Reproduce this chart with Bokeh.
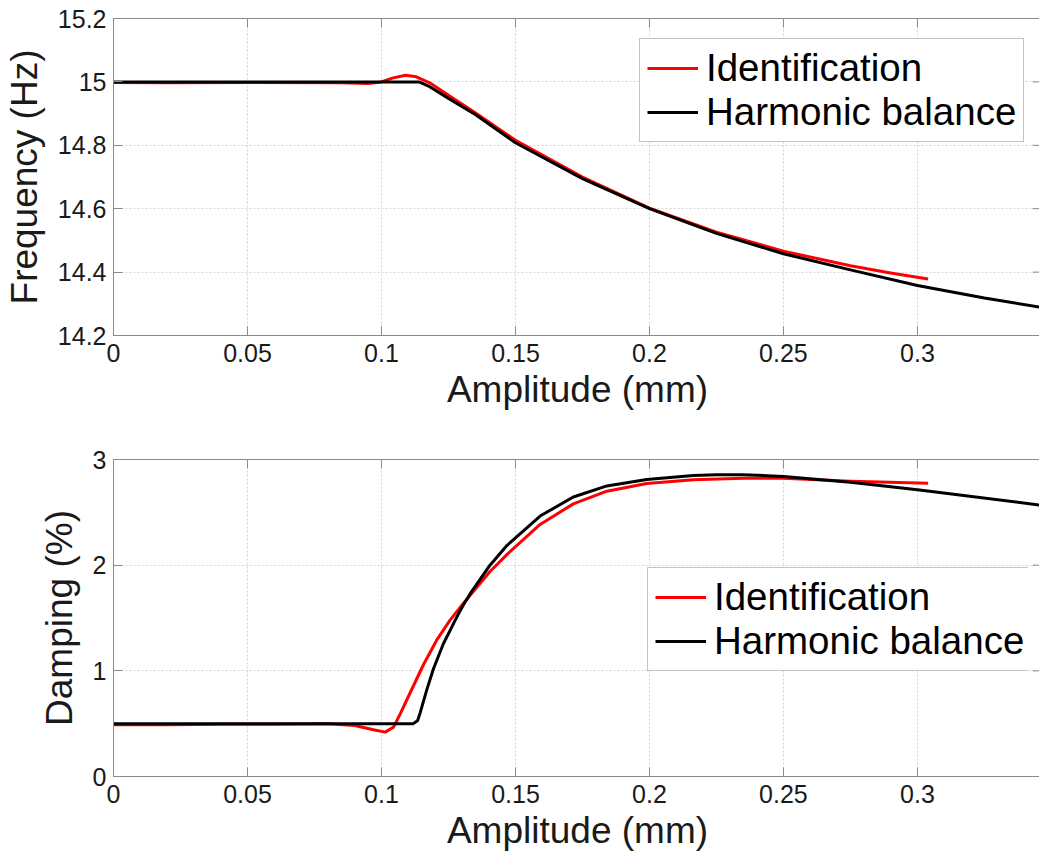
import math
from bokeh.plotting import figure
from bokeh.layouts import column
from bokeh.models import FixedTicker, Range1d, Legend, LegendItem
from bokeh.embed import file_html
from bokeh.resources import INLINE

# ---------------- data ----------------
x_ticks = [0, 0.05, 0.1, 0.15, 0.2, 0.25, 0.3]
x_tick_labels = ["0", "0.05", "0.1", "0.15", "0.2", "0.25", "0.3"]
freq_ticks = [14.2, 14.4, 14.6, 14.8, 15.0, 15.2]
freq_tick_labels = ["14.2", "14.4", "14.6", "14.8", "15", "15.2"]
damp_ticks = [0, 1, 2, 3]
damp_tick_labels = ["0", "1", "2", "3"]

# Frequency - identification (red)
freq_id_x = [0.0, 0.02, 0.05, 0.085, 0.095, 0.1, 0.104, 0.109, 0.113, 0.118,
             0.125, 0.135, 0.15, 0.175, 0.2, 0.225, 0.25, 0.275, 0.29, 0.304]
freq_id_y = [14.998, 14.997, 14.998, 14.997, 14.995, 15.0, 15.012, 15.021, 15.016, 14.997,
             14.958, 14.903, 14.816, 14.700, 14.602, 14.526, 14.466, 14.420, 14.397, 14.378]

# Frequency - harmonic balance (black)
freq_hb_x = [0.0, 0.05, 0.1, 0.114, 0.118, 0.125, 0.135, 0.15, 0.175, 0.2,
             0.225, 0.25, 0.275, 0.3, 0.325, 0.347]
freq_hb_y = [15.0, 15.0, 15.0, 15.0, 14.985, 14.948, 14.897, 14.808, 14.695, 14.600,
             14.522, 14.458, 14.407, 14.358, 14.318, 14.288]

# Damping - identification (red)
damp_id_x = [0.0, 0.02, 0.04, 0.06, 0.08, 0.09, 0.097, 0.1014, 0.1045, 0.107,
             0.1111, 0.1157, 0.1206, 0.1256, 0.1306, 0.1405, 0.1468, 0.1592,
             0.1716, 0.1841, 0.199, 0.2164, 0.235, 0.25, 0.275, 0.304]
damp_id_y = [0.49, 0.49, 0.495, 0.495, 0.5, 0.483, 0.442, 0.42, 0.467, 0.593,
             0.814, 1.06, 1.29, 1.48, 1.64, 1.94, 2.10, 2.385,
             2.58, 2.70, 2.772, 2.808, 2.823, 2.823, 2.795, 2.775]

# Damping - harmonic balance (black)
damp_hb_x = [0.0, 0.05, 0.1, 0.1119, 0.1135, 0.1144, 0.1169, 0.1194, 0.1231, 0.1281,
             0.1306, 0.1331, 0.1405, 0.1468, 0.1592, 0.1716, 0.1841, 0.199,
             0.2164, 0.225, 0.235, 0.25, 0.275, 0.3, 0.347]
damp_hb_y = [0.5, 0.5, 0.5, 0.5, 0.53, 0.6, 0.82, 1.02, 1.256, 1.508,
             1.625, 1.73, 2.0, 2.186, 2.465, 2.645, 2.75, 2.81,
             2.849, 2.855, 2.856, 2.84, 2.785, 2.713, 2.565]

FONT = "Liberation Sans"
TXT = "#1a1a1a"
EDGE = "#8a8a8a"
X_MAX = 0.3463


def style_axis(ax, ticks, labels):
    ax.ticker = FixedTicker(ticks=ticks)
    ax.major_label_overrides = {t: l for t, l in zip(ticks, labels)}
    ax.axis_line_color = EDGE
    ax.major_tick_line_color = EDGE
    ax.major_tick_in = 9
    ax.major_tick_out = 0
    ax.minor_tick_line_color = None
    ax.major_label_text_font = FONT
    ax.major_label_text_font_size = "25px"
    ax.major_label_text_color = TXT
    ax.axis_label_text_font = FONT
    ax.axis_label_text_font_size = "37px"
    ax.axis_label_text_font_style = "normal"
    ax.axis_label_text_color = TXT


def make_fig(y0, y1, yticks, ylabels, ylabel, top_border, bottom_border):
    p = figure(frame_width=928, frame_height=317,
               x_range=Range1d(0, X_MAX), y_range=Range1d(y0, y1),
               output_backend="svg", toolbar_location=None,
               min_border_left=110, min_border_right=1,
               min_border_top=top_border, min_border_bottom=bottom_border,
               background_fill_color="white", border_fill_color="white")
    p.outline_line_color = EDGE
    style_axis(p.xaxis[0], x_ticks, x_tick_labels)
    style_axis(p.yaxis[0], yticks, ylabels)
    p.xaxis[0].axis_label = "Amplitude (mm)"
    p.xaxis[0].major_label_standoff = 8
    p.xaxis[0].axis_label_standoff = 4
    p.yaxis[0].axis_label = ylabel
    p.yaxis[0].major_label_standoff = 7
    p.yaxis[0].axis_label_standoff = 10
    for g in p.grid:
        g.grid_line_color = "#d4d4d4"
        g.grid_line_dash = "2 2"
        g.grid_line_width = 1
    p.xgrid.ticker = FixedTicker(ticks=x_ticks)
    p.ygrid.ticker = FixedTicker(ticks=yticks)
    # inward tick marks on the top and right edges of the box
    p.scatter(x_ticks, [y1] * len(x_ticks), marker="dash", angle=math.pi / 2,
              size=18, line_color=EDGE, line_width=1)
    p.scatter([X_MAX] * len(yticks), yticks, marker="dash",
              size=18, line_color=EDGE, line_width=1)
    return p


def add_legend(p, r_id, r_hb, loc):
    leg = Legend(items=[LegendItem(label="Identification", renderers=[r_id]),
                        LegendItem(label="Harmonic balance", renderers=[r_hb])],
                 location=loc)
    leg.label_text_font = FONT
    leg.label_text_font_size = "38.5px"
    leg.label_text_color = "black"
    leg.glyph_width = 51
    leg.glyph_height = 40
    leg.label_height = 40
    leg.label_standoff = 8
    leg.padding = 7
    leg.spacing = 0
    leg.margin = 0
    leg.border_line_color = EDGE
    leg.border_line_width = 1
    leg.background_fill_color = "white"
    leg.background_fill_alpha = 1
    p.add_layout(leg)


p1 = make_fig(14.2, 15.2, freq_ticks, freq_tick_labels, "Frequency (Hz)", 18, 95)
r1 = p1.line(freq_id_x, freq_id_y, line_color="#ff0000", line_width=3, line_join="round")
r2 = p1.line(freq_hb_x, freq_hb_y, line_color="black", line_width=3, line_join="round")
add_legend(p1, r1, r2, (526, 193))

p2 = make_fig(0, 3, damp_ticks, damp_tick_labels, "Damping (%)", 29, 76)
r3 = p2.line(damp_id_x, damp_id_y, line_color="#ff0000", line_width=3, line_join="round")
r4 = p2.line(damp_hb_x, damp_hb_y, line_color="black", line_width=3, line_join="round")
add_legend(p2, r3, r4, (558, 105))

layout = column(p1, p2, spacing=0)
open("out.html", "w").write(file_html(layout, INLINE))
